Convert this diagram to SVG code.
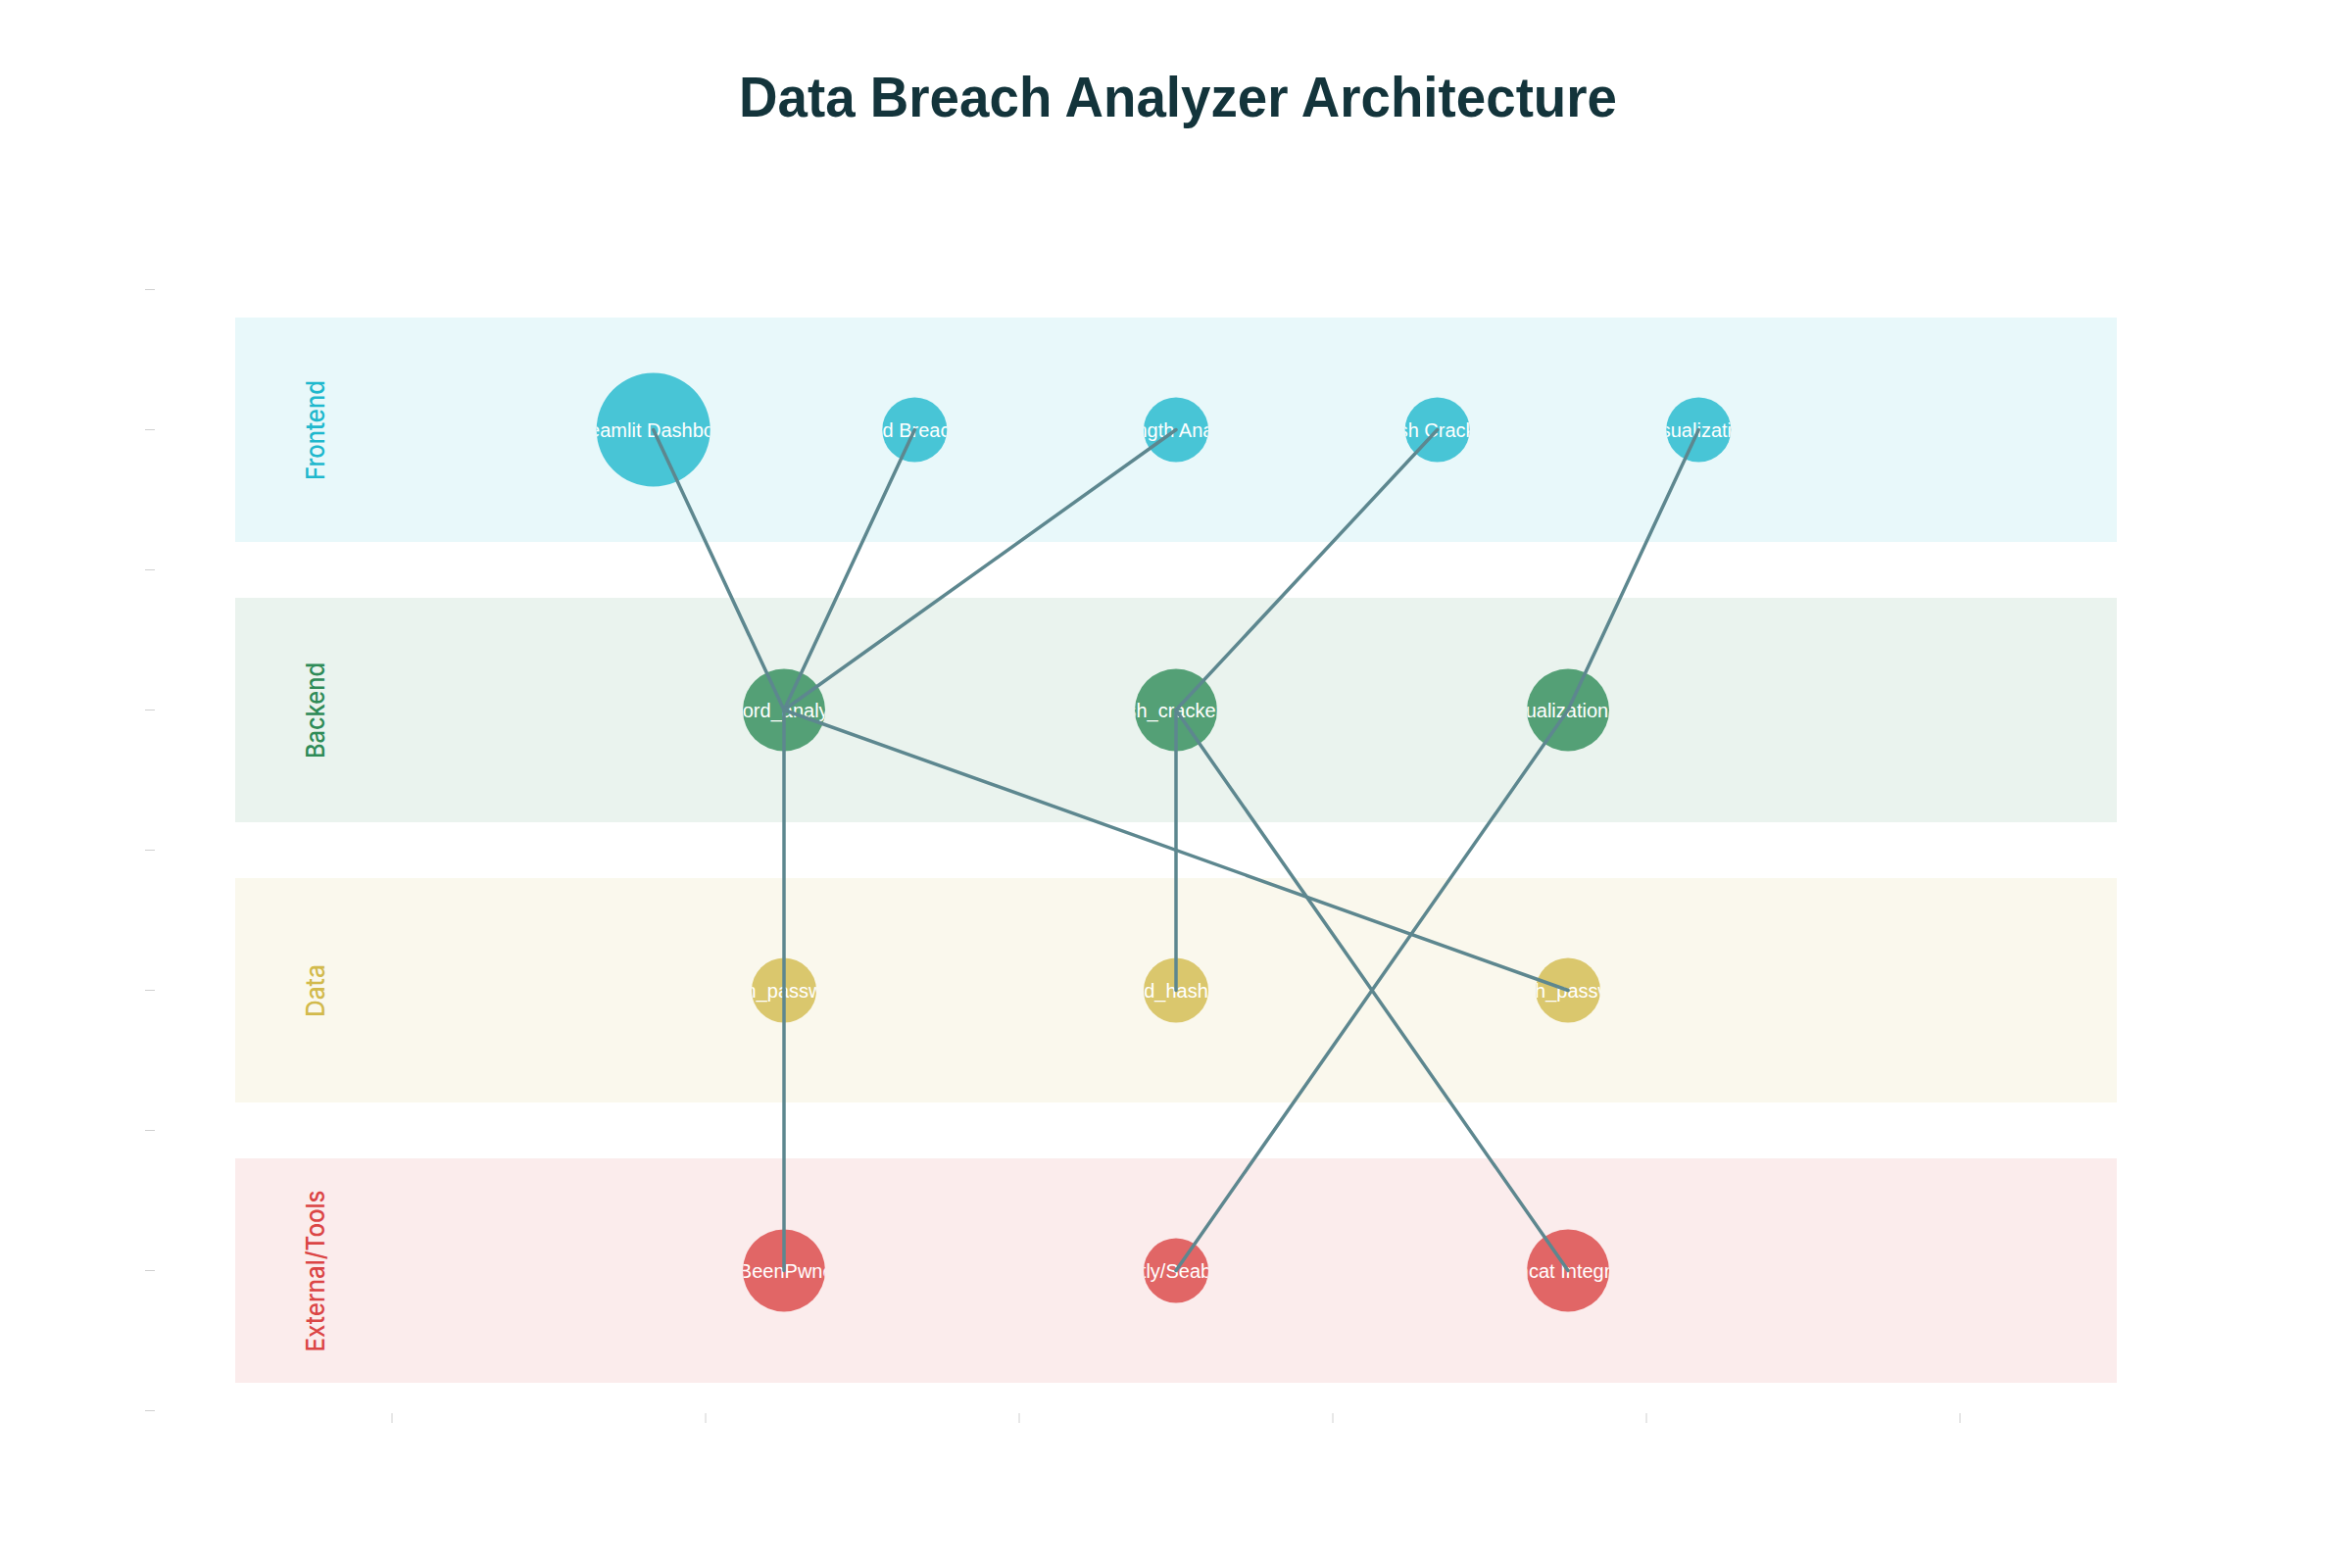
<svg xmlns="http://www.w3.org/2000/svg" width="2400" height="1600" viewBox="0 0 2400 1600">
<style>
.title{font-family:"Liberation Sans",Arial,sans-serif;font-weight:bold;font-size:58px;fill:#13343B}
.lane-label{font-family:Inter,"Liberation Sans",Arial,sans-serif;font-weight:500;font-size:26px;text-anchor:middle}
.ntext{font-family:"Liberation Sans",Arial,sans-serif;font-size:20px;fill:#FFFFFF;text-anchor:middle}
.fe{fill:#1FB8CD;fill-opacity:0.8}
.be{fill:#2E8B57;fill-opacity:0.8}
.da{fill:#D2BA4C;fill-opacity:0.8}
.ex{fill:#DB4545;fill-opacity:0.8}
.edge{stroke:#5D878F;stroke-width:3.5;fill:none;stroke-linecap:round}
.tick{stroke:#D0D0D0;stroke-width:1}
</style>
<defs>
<clipPath id="c-fe1"><circle cx="666.7" cy="438.5" r="58"/></clipPath>
<clipPath id="c-fe2"><circle cx="933.3" cy="438.5" r="33"/></clipPath>
<clipPath id="c-fe3"><circle cx="1200" cy="438.5" r="33"/></clipPath>
<clipPath id="c-fe4"><circle cx="1466.7" cy="438.5" r="33"/></clipPath>
<clipPath id="c-fe5"><circle cx="1733.3" cy="438.5" r="33"/></clipPath>
<clipPath id="c-be1"><circle cx="800" cy="724.5" r="42"/></clipPath>
<clipPath id="c-be2"><circle cx="1200" cy="724.5" r="42"/></clipPath>
<clipPath id="c-be3"><circle cx="1600" cy="724.5" r="42"/></clipPath>
<clipPath id="c-da1"><circle cx="800" cy="1010.5" r="33"/></clipPath>
<clipPath id="c-da2"><circle cx="1200" cy="1010.5" r="33"/></clipPath>
<clipPath id="c-da3"><circle cx="1600" cy="1010.5" r="33"/></clipPath>
<clipPath id="c-ex1"><circle cx="800" cy="1296.5" r="42"/></clipPath>
<clipPath id="c-ex2"><circle cx="1200" cy="1296.5" r="33"/></clipPath>
<clipPath id="c-ex3"><circle cx="1600" cy="1296.5" r="42"/></clipPath>
</defs>
<rect x="0" y="0" width="2400" height="1600" fill="#FFFFFF"/>
<text class="title" x="1202" y="119" text-anchor="middle" textLength="896" lengthAdjust="spacingAndGlyphs">Data Breach Analyzer Architecture</text>
<g id="axes">
<line class="tick" x1="148" y1="295.5" x2="158" y2="295.5"/>
<line class="tick" x1="148" y1="438.5" x2="158" y2="438.5"/>
<line class="tick" x1="148" y1="581.5" x2="158" y2="581.5"/>
<line class="tick" x1="148" y1="724.5" x2="158" y2="724.5"/>
<line class="tick" x1="148" y1="867.5" x2="158" y2="867.5"/>
<line class="tick" x1="148" y1="1010.5" x2="158" y2="1010.5"/>
<line class="tick" x1="148" y1="1153.5" x2="158" y2="1153.5"/>
<line class="tick" x1="148" y1="1296.5" x2="158" y2="1296.5"/>
<line class="tick" x1="148" y1="1439.5" x2="158" y2="1439.5"/>
<line class="tick" x1="400" y1="1442" x2="400" y2="1452"/>
<line class="tick" x1="720" y1="1442" x2="720" y2="1452"/>
<line class="tick" x1="1040" y1="1442" x2="1040" y2="1452"/>
<line class="tick" x1="1360" y1="1442" x2="1360" y2="1452"/>
<line class="tick" x1="1680" y1="1442" x2="1680" y2="1452"/>
<line class="tick" x1="2000" y1="1442" x2="2000" y2="1452"/>
</g>
<g id="lanes">
<g id="lane-frontend">
<rect x="240" y="324" width="1920" height="229" fill="#1FB8CD" fill-opacity="0.1"/>
<text class="lane-label" fill="#1FB8CD" transform="translate(331,439) rotate(-90)" textLength="102" lengthAdjust="spacingAndGlyphs">Frontend</text>
</g>
<g id="lane-backend">
<rect x="240" y="610" width="1920" height="229" fill="#2E8B57" fill-opacity="0.1"/>
<text class="lane-label" fill="#2E8B57" transform="translate(331,725) rotate(-90)" textLength="98" lengthAdjust="spacingAndGlyphs">Backend</text>
</g>
<g id="lane-data">
<rect x="240" y="896" width="1920" height="229" fill="#D2BA4C" fill-opacity="0.1"/>
<text class="lane-label" fill="#D2BA4C" transform="translate(331,1011) rotate(-90)" textLength="54" lengthAdjust="spacingAndGlyphs">Data</text>
</g>
<g id="lane-external">
<rect x="240" y="1182" width="1920" height="229" fill="#DB4545" fill-opacity="0.1"/>
<text class="lane-label" fill="#DB4545" transform="translate(331,1297) rotate(-90)" textLength="165" lengthAdjust="spacingAndGlyphs">External/Tools</text>
</g>
</g>
<g id="nodes">
<g id="fe1"><circle class="fe" cx="666.7" cy="438.5" r="58"/><text class="ntext" x="666.7" y="445.5" clip-path="url(#c-fe1)">Streamlit Dashboard</text></g>
<g id="fe2"><circle class="fe" cx="933.3" cy="438.5" r="33"/><text class="ntext" x="933.3" y="445.5" clip-path="url(#c-fe2)">Password Breach Check</text></g>
<g id="fe3"><circle class="fe" cx="1200" cy="438.5" r="33"/><text class="ntext" x="1200" y="445.5" clip-path="url(#c-fe3)">Strength Analysis</text></g>
<g id="fe4"><circle class="fe" cx="1466.7" cy="438.5" r="33"/><text class="ntext" x="1466.7" y="445.5" clip-path="url(#c-fe4)">Hash Cracking</text></g>
<g id="fe5"><circle class="fe" cx="1733.3" cy="438.5" r="33"/><text class="ntext" x="1733.3" y="445.5" clip-path="url(#c-fe5)">Visualization</text></g>
<g id="be1"><circle class="be" cx="800" cy="724.5" r="42"/><text class="ntext" x="800" y="731.5" clip-path="url(#c-be1)">password_analyzer.py</text></g>
<g id="be2"><circle class="be" cx="1200" cy="724.5" r="42"/><text class="ntext" x="1200" y="731.5" clip-path="url(#c-be2)">hash_cracker.py</text></g>
<g id="be3"><circle class="be" cx="1600" cy="724.5" r="42"/><text class="ntext" x="1600" y="731.5" clip-path="url(#c-be3)">visualization.py</text></g>
<g id="da1"><circle class="da" cx="800" cy="1010.5" r="33"/><text class="ntext" x="800" y="1017.5" clip-path="url(#c-da1)">common_passwords.txt</text></g>
<g id="da2"><circle class="da" cx="1200" cy="1010.5" r="33"/><text class="ntext" x="1200" y="1017.5" clip-path="url(#c-da2)">leaked_hashes.txt</text></g>
<g id="da3"><circle class="da" cx="1600" cy="1010.5" r="33"/><text class="ntext" x="1600" y="1017.5" clip-path="url(#c-da3)">breach_passwords</text></g>
<g id="ex1"><circle class="ex" cx="800" cy="1296.5" r="42"/><text class="ntext" x="800" y="1303.5" clip-path="url(#c-ex1)">HaveIBeenPwned API</text></g>
<g id="ex2"><circle class="ex" cx="1200" cy="1296.5" r="33"/><text class="ntext" x="1200" y="1303.5" clip-path="url(#c-ex2)">Plotly/Seaborn</text></g>
<g id="ex3"><circle class="ex" cx="1600" cy="1296.5" r="42"/><text class="ntext" x="1600" y="1303.5" clip-path="url(#c-ex3)">Hashcat Integration</text></g>
</g>
<g id="connectors">
<line class="edge" x1="666.7" y1="438.5" x2="800" y2="724.5"/>
<line class="edge" x1="933.3" y1="438.5" x2="800" y2="724.5"/>
<line class="edge" x1="1200" y1="438.5" x2="800" y2="724.5"/>
<line class="edge" x1="1466.7" y1="438.5" x2="1200" y2="724.5"/>
<line class="edge" x1="1733.3" y1="438.5" x2="1600" y2="724.5"/>
<line class="edge" x1="800" y1="724.5" x2="800" y2="1010.5"/>
<line class="edge" x1="800" y1="1010.5" x2="800" y2="1296.5"/>
<line class="edge" x1="800" y1="724.5" x2="1600" y2="1010.5"/>
<line class="edge" x1="1200" y1="724.5" x2="1200" y2="1010.5"/>
<line class="edge" x1="1200" y1="724.5" x2="1600" y2="1296.5"/>
<line class="edge" x1="1600" y1="724.5" x2="1200" y2="1296.5"/>
</g>
</svg>
